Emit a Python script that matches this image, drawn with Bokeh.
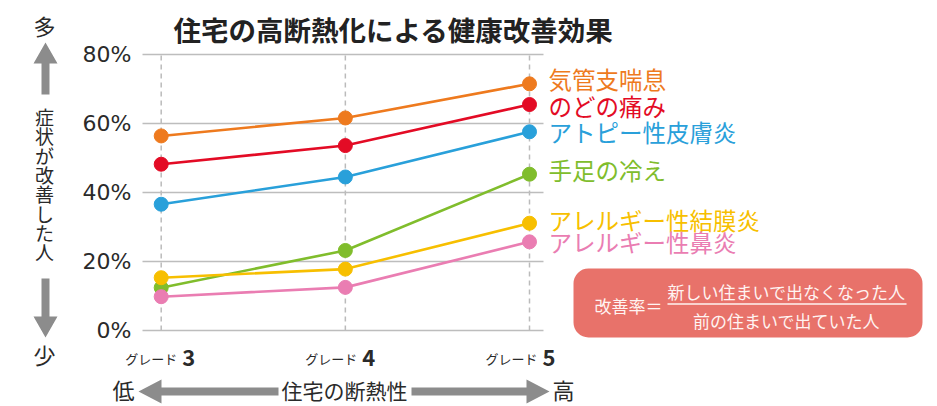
from bokeh.plotting import figure
from bokeh.models import Range1d, ColumnDataSource
from bokeh.core.properties import value
from bokeh.embed import file_html
from bokeh.resources import INLINE

# ---------------- data ----------------
grades = [3, 4, 5]
grade_prefix = "グレード"
grade_numbers = ["3", "4", "5"]

series_names = ["気管支喘息", "のどの痛み", "アトピー性皮膚炎", "手足の冷え",
                "アレルギー性結膜炎", "アレルギー性鼻炎"]
asthma = [56.4, 61.6, 71.5]
throat = [48.2, 53.6, 65.5]
atopy = [36.6, 44.5, 57.6]
cold_limbs = [12.4, 23.2, 45.3]
conjunctivitis = [15.3, 17.8, 31.1]
rhinitis = [9.8, 12.5, 25.7]
series_values = [asthma, throat, atopy, cold_limbs, conjunctivitis, rhinitis]

y_ticks = [0, 20, 40, 60, 80]
y_tick_labels = ["0%", "20%", "40%", "60%", "80%"]

title_text = "住宅の高断熱化による健康改善効果"
y_label = "症状が改善した人"
y_top_word = "多"
y_bottom_word = "少"
x_label = "住宅の断熱性"
x_left_word = "低"
x_right_word = "高"
formula_lhs = "改善率＝"
formula_num = "新しい住まいで出なくなった人"
formula_den = "前の住まいで出ていた人"

# ---------------- style / layout ----------------
colors = ["#EE7A1E", "#E30B25", "#29A0DA", "#80BD2C", "#F7BF00", "#EA7DB2"]
label_dy = [5, -1, 0, 4, 3, 0]   # pixel nudges of end labels (up = +)
FONT = value("Noto Sans CJK JP")
NUMFONT = value("DejaVu Sans")
GRAY = "#8C8C8C"
TXT = "#2A2A2A"

W, H = 937, 406
G3px = 160.7          # page x of grade 3
spacing = 184.15      # px per grade
Y0px = 330.0          # page y of 0%
ppu = 3.45            # px per percent

x_start = grades[0] - G3px / spacing
x_end = grades[0] + (W - G3px) / spacing
y_start = -(H - Y0px) / ppu
y_end = Y0px / ppu


def dx(px):
    return grades[0] + (px - G3px) / spacing


def dy(py):
    return (Y0px - py) / ppu


p = figure(width=W, height=H, output_backend="svg", toolbar_location=None,
           x_range=Range1d(x_start, x_end), y_range=Range1d(y_start, y_end),
           x_axis_location=None, y_axis_location=None,
           min_border=0, min_border_left=0, min_border_right=0,
           min_border_top=0, min_border_bottom=0)
p.outline_line_color = None
p.grid.visible = False
p.background_fill_color = "white"
p.border_fill_color = "white"

# grid lines from the tick arrays
p.segment(x0=grades, x1=grades, y0=[y_ticks[0]] * len(grades), y1=[y_ticks[-1]] * len(grades),
          line_color="#BBBBBB", line_width=1.5, line_dash="5 4")
p.segment(x0=[dx(142)] * len(y_ticks), x1=[dx(543)] * len(y_ticks), y0=y_ticks, y1=y_ticks,
          line_color="#BDBDBD", line_width=1.5)

# y tick labels
p.text(x=[dx(131)] * len(y_ticks), y=y_ticks, text=y_tick_labels, text_font=NUMFONT,
       text_font_size="22px", text_color=TXT, text_align="right",
       text_baseline="middle")

# series
for vals, c in zip(series_values, colors):
    p.line(grades, vals, line_color=c, line_width=2.6)
    p.scatter(grades, vals, size=14, fill_color=c, line_color=c)

end_src = ColumnDataSource(dict(
    x=[grades[-1] + 19 / spacing] * len(series_names),
    y=[v[-1] + d / ppu for v, d in zip(series_values, label_dy)],
    text=series_names, color=colors))
p.text(x="x", y="y", text="text", source=end_src, text_color="color",
       text_font=FONT, text_font_size="23.5px", text_baseline="middle",
       text_align="left")

# grade labels
g_src = ColumnDataSource(dict(
    xp=[g + o / spacing for g, o in zip(grades, [16, 12, 8])],
    xn=[g + o / spacing for g, o in zip(grades, [21, 17, 13])],
    y=[dy(358)] * 3, yn=[dy(357)] * 3,
    pre=[grade_prefix] * 3, num=grade_numbers))
p.text(x="xp", y="y", text="pre", source=g_src, text_font=FONT,
       text_font_size="13px", text_color=TXT, text_align="right",
       text_baseline="middle")
p.text(x="xn", y="yn", text="num", source=g_src, text_font=FONT,
       text_font_size="22px", text_font_style="bold", text_color=TXT,
       text_align="left", text_baseline="middle")

# title
p.text(x=[dx(393)], y=[dy(28)], text=[title_text], text_font=FONT,
       text_font_size="27.5px", text_font_style="bold", text_color="#222222",
       text_align="center", text_baseline="middle")

# vertical y label, one character per line
chars = list(y_label)
p.text(x=[dx(44)] * len(chars), y=[dy(116 + 19.3 * i) for i in range(len(chars))],
       text=chars, text_font=FONT, text_font_size="19px", text_color=TXT,
       text_align="center", text_baseline="middle")
p.text(x=[dx(44), dx(44)], y=[dy(24), dy(353)], text=[y_top_word, y_bottom_word],
       text_font=FONT, text_font_size="22px", text_color=TXT,
       text_align="center", text_baseline="middle")


def add_poly(pts, color):
    p.patch([dx(a) for a, b in pts], [dy(b) for a, b in pts],
            fill_color=color, line_color=None)


# arrows (outlines in page pixels)
add_poly([(45, 42), (57, 63), (49, 63), (49, 94), (41, 94), (41, 63), (33, 63)], GRAY)
add_poly([(45, 337), (57, 316), (49, 316), (49, 278), (41, 278), (41, 316), (33, 316)], GRAY)
add_poly([(138, 391), (161, 379), (161, 387), (278, 387), (278, 395), (161, 395), (161, 403)], GRAY)
add_poly([(549, 391), (526, 379), (526, 387), (411, 387), (411, 395), (526, 395), (526, 403)], GRAY)

p.text(x=[dx(123), dx(563)], y=[dy(388), dy(388)], text=[x_left_word, x_right_word],
       text_font=FONT, text_font_size="22px", text_color=TXT,
       text_align="center", text_baseline="middle")
p.text(x=[dx(344)], y=[dy(389)], text=[x_label], text_font=FONT,
       text_font_size="21px", text_color=TXT, text_align="center",
       text_baseline="middle")

# formula box
p.quad(left=[dx(573)], right=[dx(922)], top=[dy(268)], bottom=[dy(337)],
       fill_color="#E8726A", line_color=None, border_radius=15)
WT = "#FFF4F2"
p.text(x=[dx(628), dx(786), dx(786)], y=[dy(305), dy(291), dy(320)],
       text=[formula_lhs, formula_num, formula_den], text_font=FONT,
       text_font_size="17px", text_color=WT, text_align="center",
       text_baseline="middle")
p.segment(x0=[dx(667)], x1=[dx(906)], y0=[dy(303.5)], y1=[dy(303.5)],
          line_color=WT, line_width=1.5)

open("out.html", "w").write(file_html(p, INLINE))
